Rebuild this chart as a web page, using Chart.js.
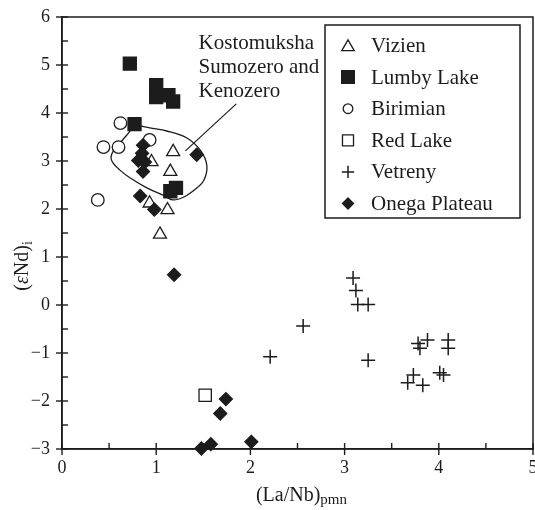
<!DOCTYPE html>
<html><head><meta charset="utf-8">
<script src="https://cdn.jsdelivr.net/npm/chart.js@4.4.1/dist/chart.umd.min.js"></script>
<style>html,body{margin:0;padding:0;background:#fff;}#wrap{width:535px;height:510px;}</style>
</head><body><div id="wrap"><canvas id="c" width="535" height="510"></canvas></div>
<script>
// ---------- data ----------
const xTicks = [0, 1, 2, 3, 4, 5];
const yTicks = [-3, -2, -1, 0, 1, 2, 3, 4, 5, 6];
const seriesNames = ['Vizien', 'Lumby Lake', 'Birimian', 'Red Lake', 'Vetreny', 'Onega Plateau'];

const vizienX = [1.18, 0.95, 1.15, 0.93, 1.12, 1.04];
const vizienY = [3.19, 2.98, 2.78, 2.12, 1.98, 1.47];

const lumbyX = [0.72, 1.00, 1.00, 1.13, 1.18, 0.77, 1.21, 1.15];
const lumbyY = [5.03, 4.58, 4.33, 4.37, 4.24, 3.77, 2.44, 2.37];

const birimianX = [0.62, 0.44, 0.60, 0.93, 0.38];
const birimianY = [3.79, 3.29, 3.29, 3.44, 2.19];

const redLakeX = [1.52];
const redLakeY = [-1.88];

const vetrenyX = [3.09, 3.12, 3.14, 3.25, 2.56, 2.21, 3.25, 3.78, 3.80, 3.88, 4.10, 4.10, 3.73, 3.67, 3.83, 4.01, 4.05];
const vetrenyY = [0.56, 0.30, 0.01, 0.01, -0.44, -1.08, -1.15, -0.80, -0.90, -0.73, -0.73, -0.90, -1.46, -1.62, -1.67, -1.41, -1.46];

const onegaX = [0.86, 0.85, 0.81, 0.88, 0.86, 1.43, 0.83, 0.98, 1.19, 1.74, 1.68, 1.48, 1.58, 2.01];
const onegaY = [3.33, 3.16, 3.01, 2.98, 2.78, 3.13, 2.27, 1.99, 0.63, -1.96, -2.26, -2.99, -2.90, -2.85];

// Kostomuksha / Sumozero / Kenozero field outline
const fieldX = [0.774, 0.933, 1.113, 1.326, 1.474, 1.538, 1.506, 1.421, 1.294, 1.177, 1.071, 0.901, 0.721, 0.615, 0.541, 0.520, 0.551, 0.604, 0.679, 0.774];
const fieldY = [3.75, 3.69, 3.625, 3.48, 3.21, 2.90, 2.60, 2.42, 2.25, 2.19, 2.29, 2.44, 2.65, 2.81, 2.96, 3.08, 3.23, 3.35, 3.52, 3.75];
const leaderX = [1.85, 1.31];
const leaderY = [4.19, 3.21];
const fieldLabel = ['Kostomuksha', 'Sumozero and', 'Kenozero'];

// ---------- helpers ----------
const INK = '#1c1c1c';
const SERIF = '"Liberation Serif", "Times New Roman", serif';
const pts = (xs, ys) => xs.map((v, i) => ({x: v, y: ys[i]}));

const markerDefs = [
  {pointStyle: 'triangle', radius: 7.5, filled: false, legendRadius: 7.2},
  {pointStyle: 'rect', radius: 9.2, filled: true, legendRadius: 9},
  {pointStyle: 'circle', radius: 6.3, filled: false, legendRadius: 4.8},
  {pointStyle: 'rect', radius: 8.7, filled: false, legendRadius: 7.8},
  {pointStyle: 'cross', radius: 7, filled: false, legendRadius: 6.2},
  {pointStyle: 'rectRot', radius: 6.5, filled: true, legendRadius: 5.5}
];
const seriesData = [
  pts(vizienX, vizienY), pts(lumbyX, lumbyY), pts(birimianX, birimianY),
  pts(redLakeX, redLakeY), pts(vetrenyX, vetrenyY), pts(onegaX, onegaY)
];
const drawOrder = [3, 1, 4, 2, 5, 0]; // lower = on top

const datasets = seriesNames.map((name, i) => ({
  label: name,
  data: seriesData[i],
  pointStyle: markerDefs[i].pointStyle,
  pointRadius: markerDefs[i].radius,
  pointBackgroundColor: markerDefs[i].filled ? INK : '#ffffff',
  pointBorderColor: INK,
  pointBorderWidth: markerDefs[i].pointStyle === 'cross' ? 1.5 : 1.3,
  showLine: false,
  clip: false,
  order: drawOrder[i],
  isSeries: true
}));
datasets.push({
  label: 'field', data: pts(fieldX, fieldY), showLine: true, tension: 0.35,
  borderColor: INK, borderWidth: 1.3, pointRadius: 0, fill: false, order: 20, clip: false
});
datasets.push({
  label: 'leader', data: pts(leaderX, leaderY), showLine: true, tension: 0,
  borderColor: INK, borderWidth: 1.2, pointRadius: 0, fill: false, order: 21, clip: false
});

const fmt = v => (v < 0 ? '\u2212' + Math.abs(v) : String(v));

const decor = {
  id: 'decor',
  beforeDatasetsDraw(chart) {
    const {ctx, chartArea: a, scales: {x, y}} = chart;
    ctx.save();
    ctx.strokeStyle = INK;
    ctx.lineWidth = 1.5;
    ctx.strokeRect(a.left, a.top, a.right - a.left, a.bottom - a.top);
    ctx.lineWidth = 1.4;
    const x0 = xTicks[0], x1 = xTicks[xTicks.length - 1];
    for (let v = x0; v <= x1 + 1e-9; v += 0.5) {
      const px = x.getPixelForValue(v);
      const major = Math.abs(v - Math.round(v)) < 1e-6;
      ctx.beginPath();
      ctx.moveTo(px, a.bottom + (major ? 6 : 0));
      ctx.lineTo(px, a.bottom - 6);
      ctx.stroke();
    }
    const y0 = yTicks[0], y1 = yTicks[yTicks.length - 1];
    for (let v = y0; v <= y1 + 1e-9; v += 0.5) {
      const py = y.getPixelForValue(v);
      const major = Math.abs(v - Math.round(v)) < 1e-6;
      ctx.beginPath();
      ctx.moveTo(a.left - (major ? 6 : 0), py);
      ctx.lineTo(a.left + 6, py);
      ctx.stroke();
    }
    ctx.restore();
  },
  afterDraw(chart) {
    const {ctx, chartArea: a, scales: {x, y}} = chart;
    ctx.save();
    ctx.fillStyle = INK;
    ctx.textBaseline = 'alphabetic';
    // x title
    ctx.font = '20px ' + SERIF;
    const t1 = '(La/Nb)';
    const w1 = ctx.measureText(t1).width;
    ctx.font = '15px ' + SERIF;
    const t2 = 'pmn';
    const w2 = ctx.measureText(t2).width;
    const cx = (a.left + a.right) / 2 + 4;
    const sx = cx - (w1 + w2) / 2;
    ctx.font = '20px ' + SERIF;
    ctx.textAlign = 'left';
    ctx.fillText(t1, sx, 501);
    ctx.font = '15px ' + SERIF;
    ctx.fillText(t2, sx + w1, 504);
    // y title
    ctx.save();
    ctx.translate(28, 266);
    ctx.rotate(-Math.PI / 2);
    const runs = [
      {t: '(', f: '20px ' + SERIF, dy: 0},
      {t: '\u03b5', f: 'italic 20px ' + SERIF, dy: 0},
      {t: 'Nd)', f: '20px ' + SERIF, dy: 0},
      {t: 'i', f: '14px ' + SERIF, dy: 4}
    ];
    let tw = 0;
    runs.forEach(r => { ctx.font = r.f; r.w = ctx.measureText(r.t).width; tw += r.w; });
    let rx = -tw / 2;
    runs.forEach(r => { ctx.font = r.f; ctx.fillText(r.t, rx, r.dy); rx += r.w; });
    ctx.restore();
    // field annotation
    ctx.font = '21px ' + SERIF;
    ctx.textAlign = 'left';
    const ax = x.getPixelForValue(1.45), ay = y.getPixelForValue(5.33);
    fieldLabel.forEach((s, i) => ctx.fillText(s, ax, ay + i * 23.8));
    // legend box
    const L = 325, T = 25, R = 520, B = 218;
    ctx.fillStyle = '#ffffff';
    ctx.fillRect(L, T, R - L, B - T);
    ctx.strokeStyle = INK;
    ctx.lineWidth = 1.5;
    ctx.strokeRect(L, T, R - L, B - T);
    const series = chart.data.datasets.filter(d => d.isSeries);
    series.forEach((d, i) => {
      const cyy = 45.5 + i * 31.6;
      const m = markerDefs[i];
      ctx.fillStyle = m.filled ? INK : '#ffffff';
      ctx.strokeStyle = INK;
      ctx.lineWidth = m.pointStyle === 'cross' ? 1.5 : 1.3;
      Chart.helpers.drawPoint(ctx, {pointStyle: m.pointStyle, radius: m.legendRadius, rotation: 0, borderWidth: ctx.lineWidth}, 348, cyy + (m.pointStyle === 'triangle' ? 1.5 : 0));
      ctx.fillStyle = INK;
      ctx.font = '21px ' + SERIF;
      ctx.textBaseline = 'middle';
      ctx.fillText(d.label, 371, cyy + 1);
    });
    ctx.restore();
  }
};

new Chart(document.getElementById('c'), {
  type: 'scatter',
  data: {datasets},
  options: {
    responsive: false,
    devicePixelRatio: 1,
    animation: false,
    events: [],
    layout: {autoPadding: false, padding: {top: 17, right: 2, left: 0, bottom: 0}},
    plugins: {legend: {display: false}, tooltip: {enabled: false}},
    scales: {
      x: {
        type: 'linear', min: xTicks[0], max: xTicks[xTicks.length - 1],
        afterBuildTicks: s => { s.ticks = xTicks.map(v => ({value: v})); },
        ticks: {font: {family: SERIF, size: 18}, color: INK, padding: 8, maxRotation: 0, autoSkip: false, callback: fmt},
        grid: {display: false, drawTicks: false},
        border: {display: true, color: INK, width: 1.5},
        afterFit: s => { s.height = 61; s.paddingLeft = 0; s.paddingRight = 0; }
      },
      y: {
        type: 'linear', min: yTicks[0], max: yTicks[yTicks.length - 1],
        afterBuildTicks: s => { s.ticks = yTicks.map(v => ({value: v})); },
        ticks: {font: {family: SERIF, size: 18}, color: INK, padding: 12, autoSkip: false, callback: fmt},
        grid: {display: false, drawTicks: false},
        border: {display: true, color: INK, width: 1.5},
        afterFit: s => { s.width = 62; s.paddingTop = 0; s.paddingBottom = 0; }
      }
    }
  },
  plugins: [decor]
});
</script></body></html>
